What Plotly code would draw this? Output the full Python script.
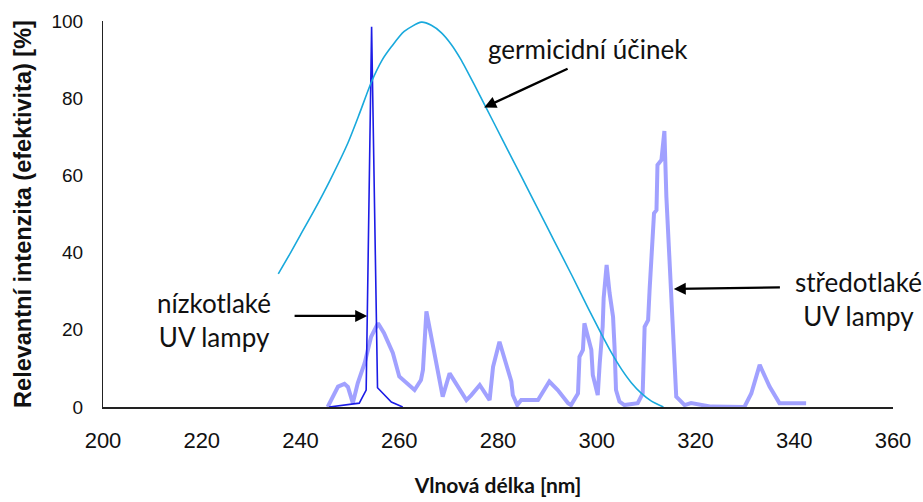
import plotly.graph_objects as go

# Germicidal action curve (germicidní účinek)
germ_x = [235.5, 238, 240, 242.8, 246, 249.6, 252, 254.3, 256.5, 258.4, 261, 264.5, 266.5,
          268.5, 270.5, 272.5, 275.2, 277.3, 281, 284.7, 288, 291.4, 295, 298.3, 300.9,
          303, 305, 307, 309, 311, 313.5]
germ_y = [34.5, 40, 44.6, 51, 58.8, 68.4, 76.2, 84, 89.8, 93.3, 97.3, 99.7, 98.9,
          97, 94, 90, 83.5, 78.3, 69, 59.8, 51.5, 43, 34, 25.5, 19,
          14, 9.8, 6.3, 3.6, 1.6, 0]

# Low-pressure UV lamp (nízkotlaké UV lampy)
lp_x = [245.8, 251.9, 253.3, 254.4, 255.6, 258.4, 260.7]
lp_y = [0, 1, 4.4, 98.5, 5, 1.3, 0]

# Medium-pressure UV lamp (středotlaké UV lampy)
mp_x = [245.5, 247.6, 248.9, 249.6, 250.6, 251.6, 253.0, 254.3, 255.7, 256.9, 258.7, 260.0,
        263.1, 264.4, 264.8, 265.5, 268.8, 270.2, 273.6, 274.6, 276.3, 278.3, 279.0, 280.3,
        282.7, 283.0, 283.9, 284.7, 288.1, 290.4, 292.1, 294.2, 294.8, 296.2, 296.5, 297.2,
        297.5, 298.2, 298.9, 299.2, 300.2, 300.6, 300.9, 301.2, 301.4, 302.0, 302.6, 303.3,
        303.6, 303.9, 304.6, 305.6, 308.3, 309.3, 309.7, 310.4, 310.7, 311.0, 311.6, 312.1,
        312.3, 313.1, 313.7, 314.1, 314.4, 315.0, 315.4, 316.1, 317.8, 319.1, 323.2, 329.9,
        331.3, 333.0, 335.0, 337.0, 342.4]
mp_y = [0, 5.3, 6, 5.2, 1, 6.2, 11.4, 18.2, 21.7, 19.2, 14, 7.9,
        4.4, 7, 9.6, 24.8, 2.7, 8.7, 1.8, 3.1, 5.7, 1.8, 10.4, 16.9,
        6.6, 3.1, 0.5, 1.8, 1.8, 6.6, 4.4, 1, 0.5, 3.5, 13, 14.8,
        21.7, 18.2, 14.8, 8.3, 3.1, 11.3, 15.6, 20.8, 28.2, 36.8, 29.5, 23.4,
        15.6, 4.4, 1.4, 0.5, 1, 3.5, 20.8, 22.5, 30.3, 38, 50.2, 51,
        62.7, 64, 71.5, 54.5, 45.9, 32, 22.5, 2.7, 0.5, 1, 0.1, 0,
        3.5, 10.9, 5.3, 1, 1]

x_ticks = [200, 220, 240, 260, 280, 300, 320, 340, 360]
y_ticks = [0, 20, 40, 60, 80, 100]

fig = go.Figure()
fig.add_trace(go.Scatter(x=mp_x, y=mp_y, mode="lines",
                         line=dict(color="rgba(130,130,255,0.75)", width=4),
                         hoverinfo="skip"))
fig.add_trace(go.Scatter(x=lp_x, y=lp_y, mode="lines",
                         line=dict(color="#1c1ce6", width=1.6), hoverinfo="skip"))
fig.add_trace(go.Scatter(x=germ_x, y=germ_y, mode="lines",
                         line=dict(color="#19a9dc", width=1.6, shape="spline", smoothing=0.7),
                         hoverinfo="skip"))

label_font = dict(family="Lato, Carlito, Open Sans, sans-serif", size=26, color="#111111")
arrow = dict(showarrow=True, arrowhead=2, arrowsize=1.0, arrowwidth=2.4, arrowcolor="black",
             axref="x", ayref="y", xref="x", yref="y")

fig.add_annotation(x=277.2, y=77.6, ax=294.4, ay=87.8, text="", **arrow)
fig.add_annotation(x=253.5, y=23.6, ax=238.5, ay=23.6, text="", **arrow)
fig.add_annotation(x=315.6, y=30.6, ax=337.4, ay=31.0, text="", **arrow)

fig.add_annotation(x=298.3, y=92.8, xref="x", yref="y", text="germicidní účinek",
                   showarrow=False, font=label_font)
fig.add_annotation(x=222.5, y=22.5, xref="x", yref="y", text="nízkotlaké<br>UV lampy",
                   showarrow=False, font=label_font, align="center")
fig.add_annotation(x=353.0, y=28, xref="x", yref="y", text="středotlaké<br>UV lampy",
                   showarrow=False, font=label_font, align="center")

fig.update_layout(
    width=923, height=502,
    margin=dict(l=103, r=30, t=21, b=95),
    paper_bgcolor="white", plot_bgcolor="white",
    showlegend=False,
)
fig.update_xaxes(
    range=[200, 360], tickvals=x_ticks, ticktext=[str(v) for v in x_ticks],
    automargin=False,
    showgrid=False, zeroline=False, showline=True, linecolor="#222222", linewidth=1.5,
    ticks="", ticklabelstandoff=13,
    tickfont=dict(family="Liberation Sans Narrow, Arial Narrow, Liberation Sans, Arial", size=22, color="#111111"),
    title=dict(text="<b>Vlnová délka [nm]</b>", standoff=26,
               font=dict(family="Lato, Carlito, Liberation Sans, sans-serif", size=21, color="#111111")),
)
fig.update_yaxes(
    range=[0, 100], tickvals=y_ticks,
    automargin=False,
    showgrid=False, zeroline=False, showline=True, linecolor="#222222", linewidth=1.2,
    ticks="", ticklabelstandoff=15,
    tickfont=dict(family="Liberation Sans, Arial", size=19, color="#111111"),
    title=dict(text="<b>Relevantní intenzita (efektivita) [%]</b>", standoff=13,
               font=dict(family="Liberation Sans, Arial", size=23.5, color="#111111")),
)

fig.write_html("out.html", config={"displayModeBar": False},
               post_script="document.body.style.margin='0';document.body.style.overflow='hidden';")
